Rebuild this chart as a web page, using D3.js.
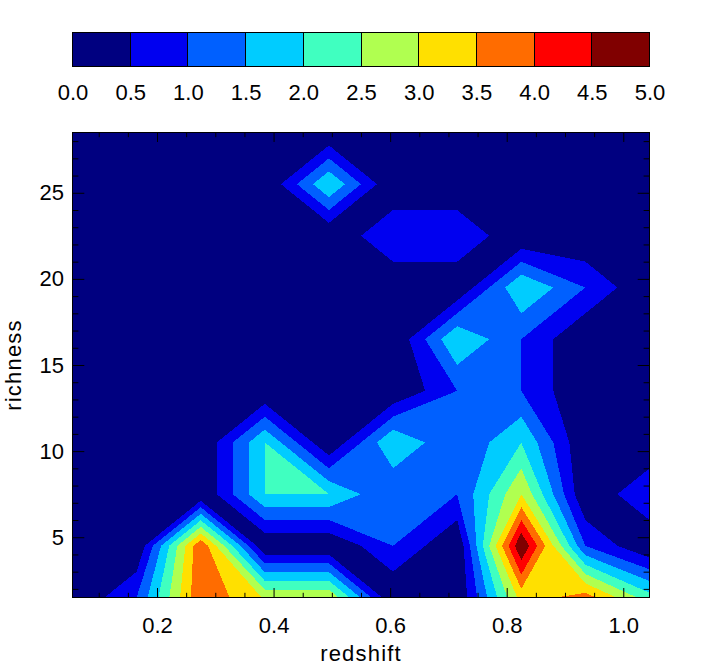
<!DOCTYPE html>
<html><head><meta charset="utf-8">
<script src="https://cdn.jsdelivr.net/npm/d3@7"></script>
<style>html,body{margin:0;padding:0;background:#fff;} svg{display:block;}</style>
</head><body><svg id="chart" width="721" height="666"></svg>
<script>
// grid nodes
const redshiftNodes = [0.055, 0.165, 0.275, 0.385, 0.495, 0.605, 0.715, 0.825, 0.935, 1.045];
const richnessNodes = [1.5, 4.5, 7.5, 10.5, 13.5, 16.5, 19.5, 22.5, 25.5, 28.5];
// density rows (one per richness node, bottom to top), values at each redshift node
const density_r01_5 = [0, 1, 3.95, 2.95, 2.95, 0, 0, 3.2, 3.75, 2.2];
const density_r04_5 = [0, 0, 3.95, 0, 0, 1, 0, 5, 1, 0];
const density_r07_5 = [0, 0, 0, 2, 2, 1, 1, 3, 0, 1];
const density_r10_5 = [0, 0, 0, 2, 0, 2, 1, 2, 0, 0];
const density_r13_5 = [0, 0, 0, 0, 0, 0, 1, 1, 0, 0];
const density_r16_5 = [0, 0, 0, 0, 0, 0, 2, 1, 0, 0];
const density_r19_5 = [0, 0, 0, 0, 0, 0, 0, 2, 1, 0];
const density_r22_5 = [0, 0, 0, 0, 0, 1, 1, 0, 0, 0];
const density_r25_5 = [0, 0, 0, 0, 2, 0, 0, 0, 0, 0];
const density_r28_5 = [0, 0, 0, 0, 0, 0, 0, 0, 0, 0];
const densityRows = [density_r01_5, density_r04_5, density_r07_5, density_r10_5, density_r13_5,
                     density_r16_5, density_r19_5, density_r22_5, density_r25_5, density_r28_5];
// contour levels and colours
const levels = [0.0, 0.5, 1.0, 1.5, 2.0, 2.5, 3.0, 3.5, 4.0, 4.5, 5.0];
const bandColors = ["#000080", "#0000f0", "#0060ff", "#00ccff", "#40ffc0",
                    "#b0ff50", "#ffe000", "#ff6c00", "#ff0000", "#800000"];
const xMajorTicks = [0.2, 0.4, 0.6, 0.8, 1.0];
const xMinorTicks = [0.1, 0.15, 0.25, 0.3, 0.35, 0.45, 0.5, 0.55, 0.65, 0.7, 0.75, 0.85, 0.9, 0.95];
const yMajorTicks = [5, 10, 15, 20, 25];
const yMinorTicks = [2, 3, 4, 6, 7, 8, 9, 11, 12, 13, 14, 16, 17, 18, 19, 21, 22, 23, 24, 26, 27, 28];
const cbTicks = [0.0, 0.5, 1.0, 1.5, 2.0, 2.5, 3.0, 3.5, 4.0, 4.5, 5.0];

const FONT = "'Liberation Sans', Arial, sans-serif";
const svg = d3.select("#chart");
const L = 72.5, R = 649.5, T = 132.5, B = 597.5;
const xScale = d3.scaleLinear().domain([redshiftNodes[0], redshiftNodes[9]]).range([L, R]);
const yScale = d3.scaleLinear().domain([richnessNodes[0], richnessNodes[9]]).range([B, T]);

svg.append("defs").append("clipPath").attr("id", "plotclip")
  .append("rect").attr("x", L).attr("y", T).attr("width", R - L).attr("height", B - T);

const nx = redshiftNodes.length, ny = richnessNodes.length;
const dxs = (redshiftNodes[nx - 1] - redshiftNodes[0]) / (nx - 1);
const dys = (richnessNodes[ny - 1] - richnessNodes[0]) / (ny - 1);
const vals = [];
densityRows.forEach(row => row.forEach(v => vals.push(v)));
const proj = d3.geoTransform({
  point(x, y) {
    this.stream.point(xScale(redshiftNodes[0] + (x - 0.5) * dxs), yScale(richnessNodes[0] + (y - 0.5) * dys));
  }
});
const path = d3.geoPath(proj);

const gc = svg.append("g").attr("clip-path", "url(#plotclip)");
gc.append("rect").attr("x", L).attr("y", T).attr("width", R - L).attr("height", B - T)
  .attr("fill", bandColors[0]);
for (let k = 1; k <= 9; k++) {
  const c = d3.contours().size([nx, ny]).thresholds([levels[k]])(vals)[0];
  gc.append("path").attr("d", path(c)).attr("fill", bandColors[k])
    .attr("shape-rendering", "crispEdges");
}

function styleAxis(g) {
  g.select(".domain").remove();
  g.selectAll("line").attr("stroke", "#000").attr("stroke-width", 1);
  g.selectAll("text").attr("font-family", FONT).attr("font-size", 22).attr("fill", "#000");
}
svg.append("g").attr("transform", `translate(0,${B})`)
  .call(d3.axisBottom(xScale).tickValues(xMajorTicks).tickFormat(d3.format(".1f")).tickSize(-9.5).tickPadding(20))
  .call(styleAxis);
svg.append("g").attr("transform", `translate(0,${B})`)
  .call(d3.axisBottom(xScale).tickValues(xMinorTicks).tickFormat("").tickSize(-4.7))
  .call(styleAxis);
svg.append("g").attr("transform", `translate(0,${T})`)
  .call(d3.axisTop(xScale).tickValues(xMajorTicks).tickFormat("").tickSize(-9.5))
  .call(styleAxis);
svg.append("g").attr("transform", `translate(0,${T})`)
  .call(d3.axisTop(xScale).tickValues(xMinorTicks).tickFormat("").tickSize(-4.7))
  .call(styleAxis);
svg.append("g").attr("transform", `translate(${L},0)`)
  .call(d3.axisLeft(yScale).tickValues(yMajorTicks).tickFormat(d3.format("d")).tickSize(-11.8).tickPadding(8.5))
  .call(styleAxis);
svg.append("g").attr("transform", `translate(${L},0)`)
  .call(d3.axisLeft(yScale).tickValues(yMinorTicks).tickFormat("").tickSize(-5.9))
  .call(styleAxis);
svg.append("g").attr("transform", `translate(${R},0)`)
  .call(d3.axisRight(yScale).tickValues(yMajorTicks).tickFormat("").tickSize(-11.8))
  .call(styleAxis);
svg.append("g").attr("transform", `translate(${R},0)`)
  .call(d3.axisRight(yScale).tickValues(yMinorTicks).tickFormat("").tickSize(-5.9))
  .call(styleAxis);

svg.append("rect").attr("x", L).attr("y", T).attr("width", R - L).attr("height", B - T)
  .attr("fill", "none").attr("stroke", "#000").attr("stroke-width", 1);

svg.append("text").attr("x", (L + R) / 2).attr("y", 661).attr("text-anchor", "middle")
  .attr("font-family", FONT).attr("font-size", 22).attr("letter-spacing", 1.2).text("redshift");
svg.append("text").attr("transform", `translate(21,${(T + B) / 2}) rotate(-90)`).attr("text-anchor", "middle")
  .attr("font-family", FONT).attr("font-size", 22).attr("letter-spacing", 1.2).text("richness");

const cbScale = d3.scaleLinear().domain([0, 5]).range([L, R]);
const cbTop = 32.5, cbBot = 66.5;
svg.append("g").selectAll("rect").data(d3.range(10)).join("rect")
  .attr("x", k => cbScale(levels[k])).attr("y", cbTop)
  .attr("width", k => cbScale(levels[k + 1]) - cbScale(levels[k])).attr("height", cbBot - cbTop)
  .attr("fill", k => bandColors[k]).attr("stroke", "#000").attr("stroke-width", 1)
  .attr("shape-rendering", "crispEdges");
svg.append("g").attr("transform", `translate(0,${cbBot})`)
  .call(d3.axisBottom(cbScale).tickValues(cbTicks).tickFormat(d3.format(".1f")).tickSize(0).tickPadding(18))
  .call(styleAxis);
</script></body></html>
